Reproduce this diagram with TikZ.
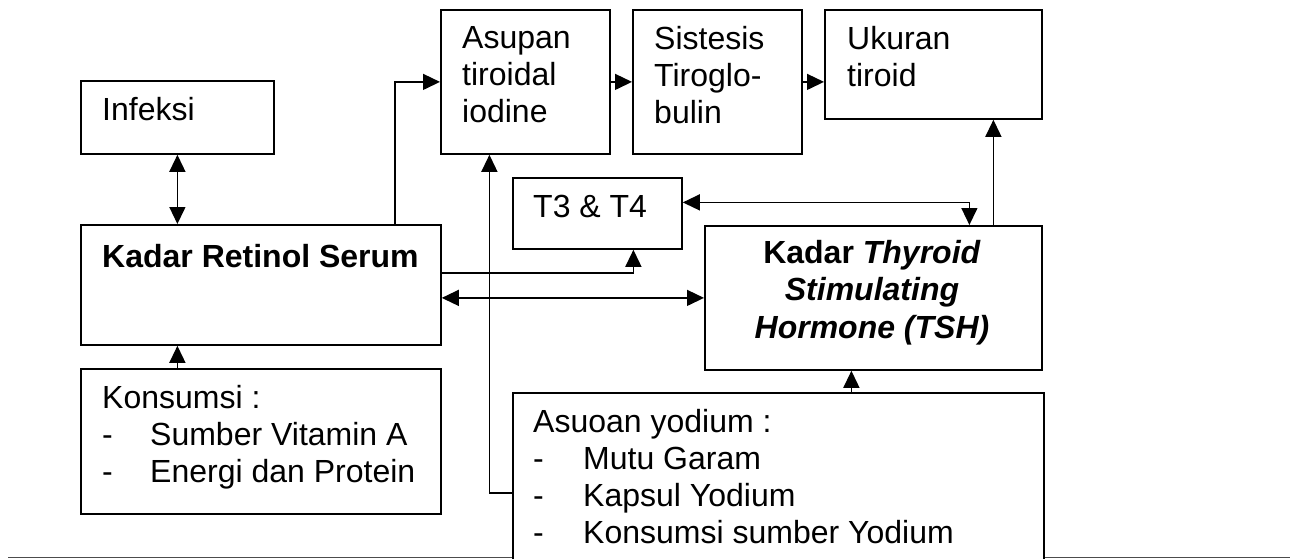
\documentclass[tikz,border=0pt]{standalone}
\usepackage{fontspec}
\setmainfont{Liberation Sans}
\usetikzlibrary{arrows.meta}
\begin{document}
\begin{tikzpicture}[x=1pt,y=-1pt,
  box/.style={draw,line width=1.8pt,inner sep=0pt,anchor=north west},
  txt/.style={inner sep=0pt,align=left,font=\fontsize{32}{37}\selectfont},
  link/.style={line width=1.4pt,-{Triangle[length=17pt,width=16pt]}},
  both/.style={link,{Triangle[length=17pt,width=16pt]}-{Triangle[length=17pt,width=16pt]}}]
\useasboundingbox (0,0) rectangle (1292,559);
\draw [line width=1pt,black!70] (8,557) -- (1290,557);
% boxes
\node[box,minimum width=193pt,minimum height=73pt] (infeksi) at (80,80) {};
\node[box,minimum width=360pt,minimum height=120pt] (kadar) at (80,224) {};
\node[box,minimum width=169pt,minimum height=144pt] (asupan) at (440,9) {};
\node[box,minimum width=169pt,minimum height=144pt] (sistesis) at (632,9) {};
\node[box,minimum width=217pt,minimum height=109pt] (ukuran) at (824,9) {};
\node[box,minimum width=169pt,minimum height=71pt] (t3) at (512,177) {};
\node[box,minimum width=337pt,minimum height=144pt] (tsh) at (704,225) {};
\node[box,minimum width=360pt,minimum height=145pt] (konsumsi) at (80,368) {};
\node[box,fill=white,minimum width=531pt,minimum height=200pt] (asuoan) at (512,392) {};
% texts
\node[txt,anchor=base west] (infeksitxt) at (102,121) {Infeksi};
\node[txt,anchor=base west] (kadartxt) at (102,267) {\bfseries Kadar Retinol Serum};
\node[txt,anchor=north west] (asupantxt) at (462,26) {Asupan\\tiroidal\\iodine};
\node[txt,anchor=north west] (sistesistxt) at (654,26) {Sistesis\\Tiroglo-\\bulin};
\node[txt,anchor=north west] (ukurantxt) at (847,26) {Ukuran\\tiroid};
\node[txt,anchor=base west] (t3txt) at (533,217) {T3 \& T4};
\node[txt,align=center,anchor=north,font=\fontsize{32}{37.5}\selectfont\bfseries] (tshtxt) at (872,240)
  {Kadar \textit{Thyroid}\\\textit{Stimulating}\\\textit{Hormone (TSH)}};
\node[txt,anchor=north west] (konsumsitxt) at (102,385)
  {Konsumsi :\\\makebox[48pt][l]{-}Sumber Vitamin A\\\makebox[48pt][l]{-}Energi dan Protein};
\node[txt,anchor=north west] (asuoantxt) at (533,409)
  {Asuoan yodium :\\\makebox[50pt][l]{-}Mutu Garam\\\makebox[50pt][l]{-}Kapsul Yodium\\\makebox[50pt][l]{-}Konsumsi sumber Yodium};
% connectors
\coordinate (tshup) at ([xshift=120pt]tsh.north);
\coordinate (tshdown) at ([xshift=-22pt]tsh.south);
\draw [both] (infeksi.south) -- (infeksi.south |- kadar.north);
\draw [link] ([xshift=-47pt]kadar.north east) |- (asupan.west);
\draw [link] (asupan.east) -- (sistesis.west);
\draw [link] (sistesis.east) -- (sistesis.east -| ukuran.west);
\draw [both] ([yshift=11pt]t3.east) -| ([xshift=96pt]tsh.north);
\draw [link] (tshup) -- (tshup |- ukuran.south);
\draw [link] ([yshift=12pt]kadar.east) -| ([xshift=36pt]t3.south);
\draw [both] (tsh.west -| kadar.east) -- (tsh.west);
\draw [link] (tshdown |- asuoan.north) -- (tshdown);
\draw [link] (asuoan.west) -| ([xshift=-36pt]asupan.south);
\draw [link] (infeksi.south |- konsumsi.north) -- (infeksi.south |- kadar.south);
\end{tikzpicture}
\end{document}
